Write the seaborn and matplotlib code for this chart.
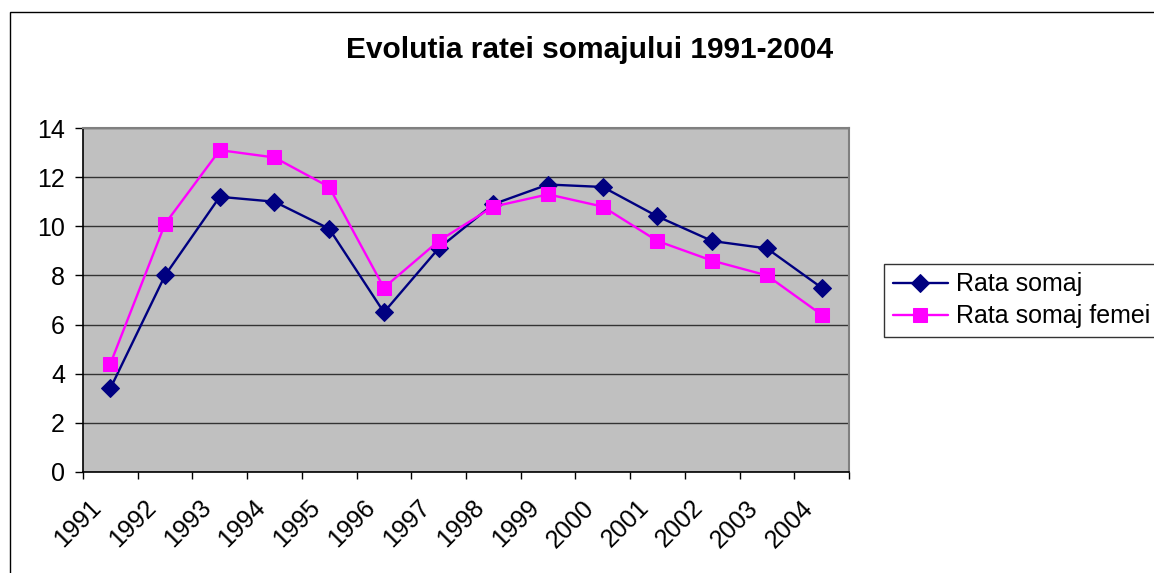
import numpy as np
import pandas as pd
import seaborn as sns
import matplotlib.pyplot as plt
import matplotlib.transforms as mtransforms
from matplotlib.patches import Rectangle

years = [1991, 1992, 1993, 1994, 1995, 1996, 1997, 1998, 1999, 2000, 2001, 2002, 2003, 2004]
rata_somaj = [3.4, 8.0, 11.2, 11.0, 9.9, 6.5, 9.1, 10.9, 11.7, 11.6, 10.4, 9.4, 9.1, 7.5]
rata_somaj_femei = [4.4, 10.1, 13.1, 12.8, 11.6, 7.5, 9.4, 10.8, 11.3, 10.8, 9.4, 8.6, 8.0, 6.4]

df = pd.DataFrame({'An': years, 'Rata somaj': rata_somaj, 'Rata somaj femei': rata_somaj_femei})

sns.set_style('white')
plt.rcParams['font.family'] = ['Liberation Sans', 'DejaVu Sans']
plt.rcParams['text.color'] = 'black'
plt.rcParams['xtick.color'] = 'black'
plt.rcParams['ytick.color'] = 'black'

fig = plt.figure(figsize=(11.54, 5.73), dpi=100)
ax = fig.add_axes([0.0719, 0.1763, 0.6638, 0.6003])
ax.set_facecolor('#C0C0C0')

sns.lineplot(data=df, x='An', y='Rata somaj', color='#000080', marker='D', markersize=9.5,
             markeredgecolor='#000080', linewidth=1.7, label='Rata somaj', ax=ax)
sns.lineplot(data=df, x='An', y='Rata somaj femei', color='#FF00FF', marker='s', markersize=10,
             markeredgecolor='#FF00FF', linewidth=1.7, label='Rata somaj femei', ax=ax)

ax.set_xlim(years[0] - 0.5, years[-1] + 0.5)
ax.set_ylim(0, 14)
ax.set_yticks(range(0, 15, 2))
ax.grid(axis='y', color='#333333', linewidth=1)
ax.set_axisbelow(True)

# excel style: ticks between categories, labels centered
ax.set_xticks(np.arange(years[0] - 0.5, years[-1] + 1, 1))
ax.set_xticklabels([])
ax.set_xticks(years, minor=True)
ax.set_xticklabels([str(y) for y in years], minor=True, rotation=45, ha='right',
                   rotation_mode='anchor', fontsize=18)
ax.tick_params(axis='x', which='major', direction='out', length=5, width=1, color='black', bottom=True)
ax.tick_params(axis='x', which='minor', length=0, pad=17, labelcolor='black')
ax.tick_params(axis='y', direction='out', length=6, width=1, color='black', left=True,
               labelsize=18, pad=7, labelcolor='black')
shift = mtransforms.ScaledTranslation(-0.21, 0, fig.dpi_scale_trans)
for lbl in ax.get_xticklabels(minor=True):
    lbl.set_transform(lbl.get_transform() + shift)

for s in ['left', 'bottom']:
    ax.spines[s].set_color('black')
    ax.spines[s].set_linewidth(1.2)
for s in ['top', 'right']:
    ax.spines[s].set_color('#808080')
    ax.spines[s].set_linewidth(1.5)

ax.set_xlabel('')
ax.set_ylabel('')

fig.text(0.511, 0.899, 'Evolutia ratei somajului 1991-2004', ha='center', va='baseline',
         fontsize=21.5, fontweight='bold', color='black')

leg = ax.legend(loc='center left', bbox_to_anchor=(0.766, 0.476), bbox_transform=fig.transFigure,
                fontsize=18, frameon=True, fancybox=False, borderpad=0.35, handlelength=2.2,
                labelspacing=0.32, handletextpad=0.35, borderaxespad=0)
leg.get_frame().set_edgecolor('black')
leg.get_frame().set_linewidth(1)
for t in leg.get_texts():
    t.set_color('black')

fig.patches.append(Rectangle((0.0087, -0.05), 1.1, 1.029, transform=fig.transFigure,
                             fill=False, edgecolor='black', linewidth=1))

plt.savefig('out.png', dpi=100)
